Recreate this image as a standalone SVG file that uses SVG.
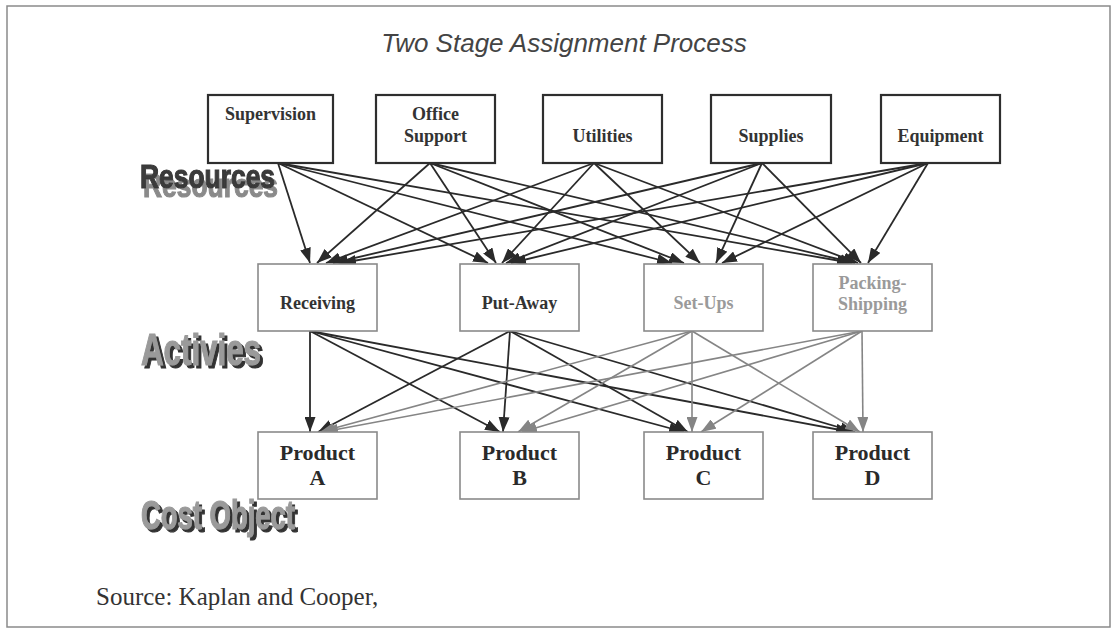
<svg xmlns="http://www.w3.org/2000/svg" width="1115" height="630" viewBox="0 0 1115 630">
<defs>
<marker id="ad" viewBox="0 0 15 11" refX="15" refY="5.5" markerWidth="15" markerHeight="11" markerUnits="userSpaceOnUse" orient="auto"><path d="M0,0 L15,5.5 L0,11 z" fill="#2a2a2a"/></marker>
<marker id="ag" viewBox="0 0 15 11" refX="15" refY="5.5" markerWidth="15" markerHeight="11" markerUnits="userSpaceOnUse" orient="auto"><path d="M0,0 L15,5.5 L0,11 z" fill="#858585"/></marker>
<filter id="shRes" x="-10%" y="-20%" width="130%" height="160%">
<feOffset in="SourceAlpha" dx="3" dy="9" result="o"/>
<feFlood flood-color="#8a8a8a"/>
<feComposite in2="o" operator="in" result="s"/>
<feMerge><feMergeNode in="s"/><feMergeNode in="SourceGraphic"/></feMerge>
</filter>
<filter id="shDark" x="-10%" y="-20%" width="130%" height="160%">
<feOffset in="SourceAlpha" dx="3" dy="3" result="o"/>
<feFlood flood-color="#333333"/>
<feComposite in2="o" operator="in" result="s"/>
<feMerge><feMergeNode in="s"/><feMergeNode in="SourceGraphic"/></feMerge>
</filter>
<style>
.res{fill:#fff;stroke:#2e2e2e;stroke-width:2.2}
.box{fill:#fff;stroke:#8a8a8a;stroke-width:1.6}
.t{font-family:"Liberation Serif","Times New Roman",serif;font-weight:bold;font-size:18px;fill:#333;text-anchor:middle}
.tl{fill:#9a9a9a}
.p{font-family:"Liberation Serif","Times New Roman",serif;font-weight:bold;font-size:22px;fill:#2a2a2a;text-anchor:middle}
.d{stroke:#2a2a2a;stroke-width:1.8;fill:none;marker-end:url(#ad)}
.g{stroke:#858585;stroke-width:1.6;fill:none;marker-end:url(#ag)}
.lab{font-family:"Liberation Sans Narrow","Liberation Sans",Arial,sans-serif;font-weight:bold;stroke-width:1.2}
</style>
</defs>
<rect x="7" y="6" width="1103" height="621" fill="#fff" stroke="#8a8a8a" stroke-width="1.5"/>
<text x="564" y="52" font-family="Liberation Sans, Arial, sans-serif" font-style="italic" font-size="26" fill="#444" text-anchor="middle">Two Stage Assignment Process</text>

<g id="connectors">
<line class="d" x1="278" y1="163" x2="310" y2="263"/>
<line class="d" x1="278" y1="163" x2="488" y2="263"/>
<line class="d" x1="278" y1="163" x2="672" y2="263"/>
<line class="d" x1="278" y1="163" x2="852" y2="263"/>
<line class="d" x1="430" y1="163" x2="317" y2="263"/>
<line class="d" x1="430" y1="163" x2="496" y2="263"/>
<line class="d" x1="430" y1="163" x2="684" y2="263"/>
<line class="d" x1="430" y1="163" x2="855" y2="263"/>
<line class="d" x1="594" y1="163" x2="326" y2="263"/>
<line class="d" x1="594" y1="163" x2="502" y2="263"/>
<line class="d" x1="594" y1="163" x2="700" y2="263"/>
<line class="d" x1="594" y1="163" x2="858" y2="263"/>
<line class="d" x1="762" y1="163" x2="333" y2="263"/>
<line class="d" x1="762" y1="163" x2="506" y2="263"/>
<line class="d" x1="762" y1="163" x2="716" y2="263"/>
<line class="d" x1="762" y1="163" x2="861" y2="263"/>
<line class="d" x1="928" y1="163" x2="341" y2="263"/>
<line class="d" x1="928" y1="163" x2="511" y2="263"/>
<line class="d" x1="928" y1="163" x2="722" y2="263"/>
<line class="d" x1="928" y1="163" x2="868" y2="263"/>

<line class="d" x1="310" y1="331" x2="310" y2="432"/>
<line class="d" x1="310" y1="331" x2="500" y2="432"/>
<line class="d" x1="310" y1="331" x2="684" y2="432"/>
<line class="d" x1="310" y1="331" x2="851" y2="432"/>
<line class="d" x1="510" y1="331" x2="318" y2="432"/>
<line class="d" x1="510" y1="331" x2="503" y2="432"/>
<line class="d" x1="510" y1="331" x2="688" y2="432"/>
<line class="d" x1="510" y1="331" x2="855" y2="432"/>
<line class="g" x1="692" y1="331" x2="320" y2="432"/>
<line class="g" x1="692" y1="331" x2="518" y2="432"/>
<line class="g" x1="692" y1="331" x2="692" y2="432"/>
<line class="g" x1="692" y1="331" x2="860" y2="432"/>
<line class="g" x1="862" y1="331" x2="323" y2="432"/>
<line class="g" x1="862" y1="331" x2="522" y2="432"/>
<line class="g" x1="862" y1="331" x2="701" y2="432"/>
<line class="g" x1="862" y1="331" x2="863" y2="432"/>
</g>

<g id="supervision"><rect class="res" x="208" y="95" width="125" height="68"/><text class="t" x="270.5" y="120">Supervision</text></g>
<g id="office-support"><rect class="res" x="376" y="95" width="119" height="68"/><text class="t" x="435.5" y="120">Office</text><text class="t" x="435.5" y="142">Support</text></g>
<g id="utilities"><rect class="res" x="543" y="95" width="119" height="68"/><text class="t" x="602.5" y="142">Utilities</text></g>
<g id="supplies"><rect class="res" x="711" y="95" width="120" height="68"/><text class="t" x="771" y="142">Supplies</text></g>
<g id="equipment"><rect class="res" x="881" y="95" width="119" height="68"/><text class="t" x="940.5" y="142">Equipment</text></g>

<g id="receiving"><rect class="box" x="258" y="264" width="119" height="67"/><text class="t" x="317.5" y="309">Receiving</text></g>
<g id="put-away"><rect class="box" x="460" y="264" width="119" height="67"/><text class="t" x="519.5" y="309">Put-Away</text></g>
<g id="set-ups"><rect class="box" x="644" y="264" width="119" height="67"/><text class="t tl" x="703.5" y="309">Set-Ups</text></g>
<g id="packing-shipping"><rect class="box" x="813" y="264" width="119" height="67"/><text class="t tl" x="872.5" y="289">Packing-</text><text class="t tl" x="872.5" y="310">Shipping</text></g>

<g id="product-a"><rect class="box" x="258" y="432" width="119" height="67"/><text class="p" x="317.5" y="460">Product</text><text class="p" x="317.5" y="485">A</text></g>
<g id="product-b"><rect class="box" x="460" y="432" width="119" height="67"/><text class="p" x="519.5" y="460">Product</text><text class="p" x="519.5" y="485">B</text></g>
<g id="product-c"><rect class="box" x="644" y="432" width="119" height="67"/><text class="p" x="703.5" y="460">Product</text><text class="p" x="703.5" y="485">C</text></g>
<g id="product-d"><rect class="box" x="813" y="432" width="119" height="67"/><text class="p" x="872.5" y="460">Product</text><text class="p" x="872.5" y="485">D</text></g>

<g id="label-resources">
<text class="lab" x="140" y="188" font-size="34" fill="#3a3a3a" stroke="#3a3a3a" textLength="135" lengthAdjust="spacingAndGlyphs" filter="url(#shRes)">Resources</text>
</g>
<g id="label-activies">
<text class="lab" x="141" y="365" font-size="44" fill="#9a9a9a" stroke="#9a9a9a" textLength="120" lengthAdjust="spacingAndGlyphs" filter="url(#shDark)">Activies</text>
</g>
<g id="label-cost-object">
<text class="lab" x="141" y="529" font-size="40" fill="#9a9a9a" stroke="#9a9a9a" textLength="154" lengthAdjust="spacingAndGlyphs" filter="url(#shDark)">Cost Object</text>
</g>

<text x="96" y="605" font-family="Liberation Serif, Times New Roman, serif" font-size="25" fill="#333">Source: Kaplan and Cooper,</text>
</svg>
